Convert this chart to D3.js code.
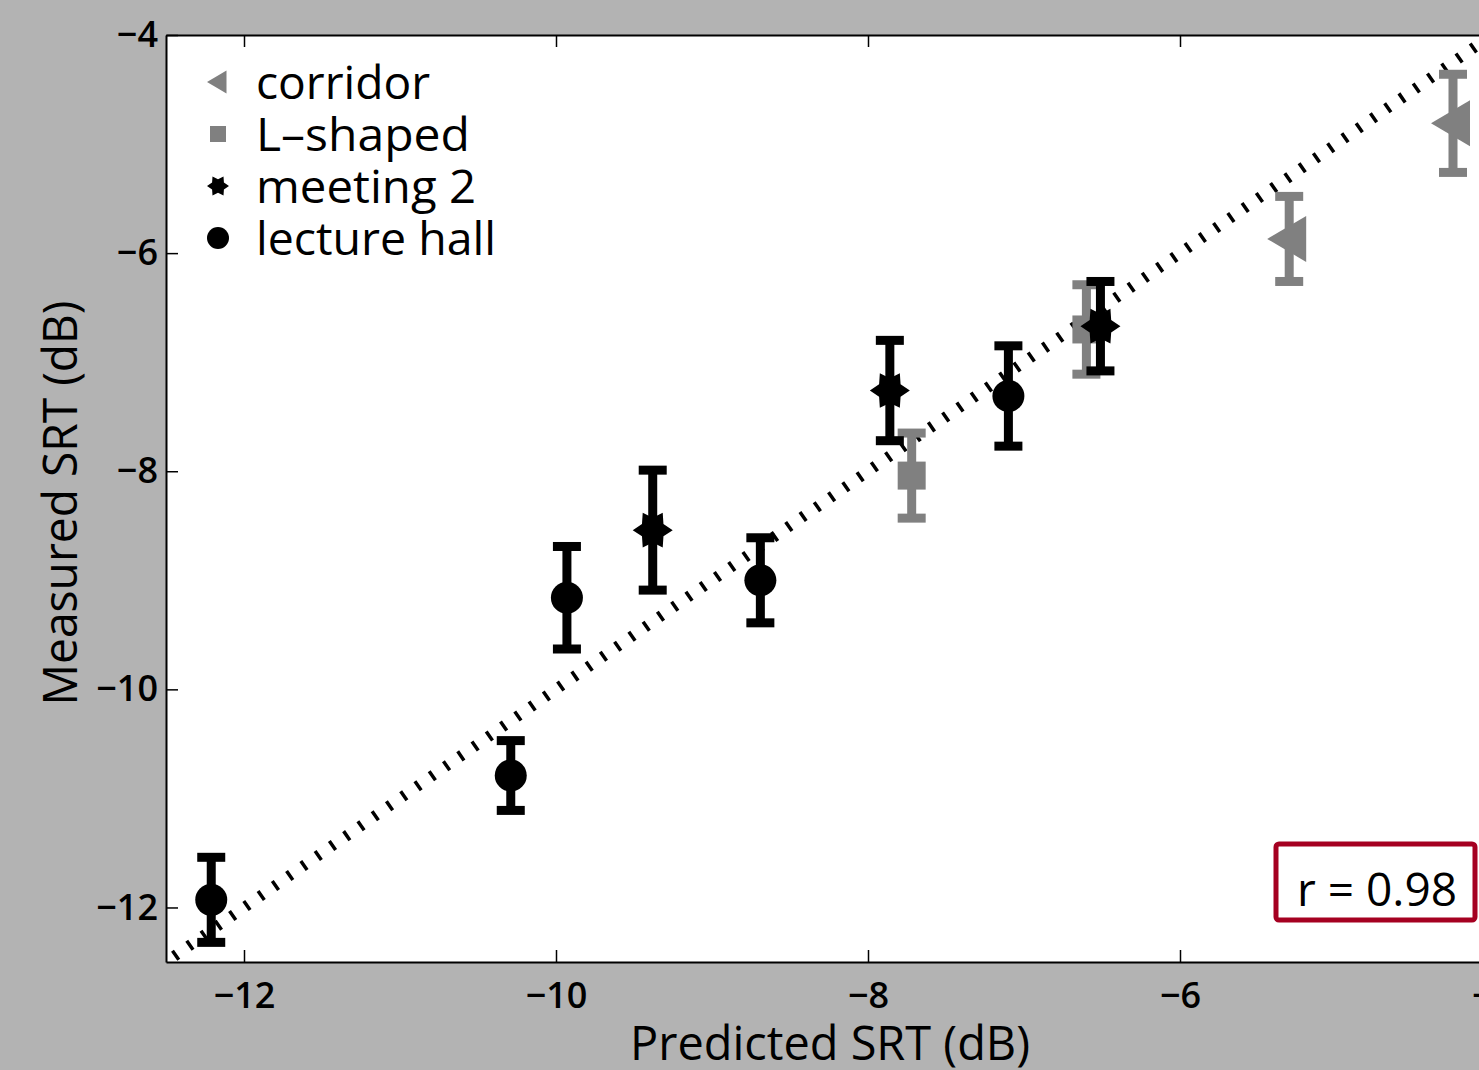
<!DOCTYPE html>
<html>
<head>
<meta charset="utf-8">
<style>
  body { margin: 0; background: #b3b3b3; }
  svg { display: block; }
  text { font-family: "Open Sans", "Noto Sans", sans-serif; fill: #000; }
  .tick text { font-size: 36px; font-weight: 600; }
  .axis-label { font-size: 47px; font-weight: 500; }
  .legend text { font-size: 46px; font-weight: 500; }
</style>
<title>Measured vs predicted SRT</title>
</head>
<body>
<script src="https://cdn.jsdelivr.net/npm/d3@7"></script>
<script>
// data: predicted, measured, half error bar (dB)
const lectureHall = [
  { x: -12.21, y: -11.93, e: 0.39 },
  { x: -10.29, y: -10.79, e: 0.32 },
  { x: -9.93,  y: -9.16,  e: 0.47 },
  { x: -8.69,  y: -9.00,  e: 0.39 },
  { x: -7.10,  y: -7.31,  e: 0.46 }
];
const meeting2 = [
  { x: -9.38, y: -8.54, e: 0.55 },
  { x: -7.86, y: -7.26, e: 0.46 },
  { x: -6.51, y: -6.67, e: 0.41 }
];
const lShaped = [
  { x: -7.72, y: -8.04, e: 0.39 },
  { x: -6.60, y: -6.70, e: 0.41 }
];
const corridor = [
  { x: -5.30, y: -5.87, e: 0.39 },
  { x: -4.25, y: -4.81, e: 0.45 }
];
const xTicks = [-12, -10, -8, -6, -4];
const yTicks = [-12, -10, -8, -6, -4];
const legendNames = ["corridor", "L\u2013shaped", "meeting 2", "lecture hall"];
const rValue = "r = 0.98";

const W = 1479, H = 1070;
const plot = { left: 166, top: 35, right: 1570, bottom: 962 };

const x = d3.scaleLinear().domain([-12.5, -3.5]).range([plot.left, plot.right]);
const y = d3.scaleLinear().domain([-12.5, -4]).range([plot.bottom, plot.top]);

const svg = d3.select("body").append("svg")
  .attr("width", W)
  .attr("height", H);

svg.append("rect").attr("width", W).attr("height", H).attr("fill", "#b3b3b3");

svg.append("rect")
  .attr("x", plot.left).attr("y", plot.top)
  .attr("width", plot.right - plot.left).attr("height", plot.bottom - plot.top)
  .attr("fill", "#fff");

// identity line, drawn as a wide dashed stroke so each dash looks like a small tick
svg.append("line")
  .attr("x1", x(-12.5)).attr("y1", y(-12.5))
  .attr("x2", x(-3.5)).attr("y2", y(-3.5))
  .attr("stroke", "#000")
  .attr("stroke-width", 11)
  .attr("stroke-dasharray", "3.5 13.9")
  .attr("stroke-dashoffset", -10);

// marker shapes
function hexagram(R) {
  const r = R * 0.62;
  const pts = [];
  for (let i = 0; i < 12; i++) {
    const a = i * Math.PI / 6;
    const rad = i % 2 === 0 ? R : r;
    pts.push([rad * Math.cos(a), rad * Math.sin(a)]);
  }
  return "M" + pts.map(p => p.join(",")).join("L") + "Z";
}
function leftTriangle(s) {
  return `M${-s * 1.1},0L${s * 0.85},${-s * 1.15}L${s * 0.85},${s * 1.15}Z`;
}
const shapes = {
  circle: s => d3.symbol(d3.symbolCircle, Math.PI * s * s)(),
  square: s => `M${-s},${-s}H${s}V${s}H${-s}Z`,
  star: s => hexagram(s),
  tri: s => leftTriangle(s)
};

const series = [
  { name: "corridor", data: corridor, color: "#808080", shape: "tri", size: 20 },
  { name: "L-shaped", data: lShaped, color: "#808080", shape: "square", size: 14 },
  { name: "meeting 2", data: meeting2, color: "#000", shape: "star", size: 20 },
  { name: "lecture hall", data: lectureHall, color: "#000", shape: "circle", size: 16 }
];

const capHalf = 14, capThick = 9, stemW = 9;

series.forEach(s => {
  const g = svg.append("g").attr("class", "series");
  const pts = g.selectAll("g").data(s.data).enter().append("g");
  pts.append("line")
    .attr("x1", d => x(d.x)).attr("x2", d => x(d.x))
    .attr("y1", d => y(d.y - d.e)).attr("y2", d => y(d.y + d.e))
    .attr("stroke", s.color).attr("stroke-width", stemW);
  pts.append("rect")
    .attr("x", d => x(d.x) - capHalf).attr("width", capHalf * 2)
    .attr("y", d => y(d.y + d.e) - capThick / 2).attr("height", capThick)
    .attr("fill", s.color);
  pts.append("rect")
    .attr("x", d => x(d.x) - capHalf).attr("width", capHalf * 2)
    .attr("y", d => y(d.y - d.e) - capThick / 2).attr("height", capThick)
    .attr("fill", s.color);
  pts.append("path")
    .attr("transform", d => `translate(${x(d.x)},${y(d.y)})`)
    .attr("d", shapes[s.shape](s.size))
    .attr("fill", s.color);
});

// axes (ticks pointing inward)
const axisStyle = g => {
  g.select(".domain").attr("stroke", "#000").attr("stroke-width", 2);
  g.selectAll(".tick line").attr("stroke", "#000").attr("stroke-width", 1.5);
};
const minus = d => d3.format("")(d).replace("-", "\u2212");

svg.append("g")
  .attr("transform", `translate(0,${plot.bottom})`)
  .call(d3.axisBottom(x).tickValues(xTicks).tickSizeInner(-12).tickSizeOuter(0)
    .tickPadding(14).tickFormat(minus))
  .call(axisStyle)
  .call(g => g.selectAll(".tick text").attr("dy", "0.9em"));

svg.append("g")
  .attr("transform", `translate(0,${plot.top})`)
  .call(d3.axisTop(x).tickValues(xTicks).tickSizeInner(-12).tickSizeOuter(0).tickFormat(""))
  .call(axisStyle);

svg.append("g")
  .attr("transform", `translate(${plot.left},0)`)
  .call(d3.axisLeft(y).tickValues(yTicks).tickSizeInner(-12).tickSizeOuter(0)
    .tickPadding(8).tickFormat(minus))
  .call(axisStyle);

svg.selectAll(".domain").attr("fill", "none");

// axis labels
svg.append("text")
  .attr("class", "axis-label")
  .attr("x", 830).attr("y", 1060)
  .attr("text-anchor", "middle")
  .attr("textLength", 400).attr("lengthAdjust", "spacingAndGlyphs")
  .text("Predicted SRT (dB)");

svg.append("text")
  .attr("class", "axis-label")
  .attr("transform", "translate(77,503) rotate(-90)")
  .attr("text-anchor", "middle")
  .attr("textLength", 405).attr("lengthAdjust", "spacingAndGlyphs")
  .text("Measured SRT (dB)");

// legend
const legend = svg.append("g").attr("class", "legend");
const rows = legend.selectAll("g").data(series).enter().append("g")
  .attr("transform", (d, i) => `translate(218,${82 + i * 52})`);
const legendSize = { tri: 10, square: 8, star: 11, circle: 11 };
const legendWidths = [174, 214, 220, 240];
rows.append("path")
  .attr("d", d => shapes[d.shape](legendSize[d.shape]))
  .attr("fill", d => d.color);
rows.append("text")
  .attr("x", 38).attr("dy", "0.36em")
  .attr("textLength", (d, i) => legendWidths[i]).attr("lengthAdjust", "spacingAndGlyphs")
  .text((d, i) => legendNames[i]);

// correlation box
svg.append("rect")
  .attr("x", 1276).attr("y", 844)
  .attr("width", 199).attr("height", 76)
  .attr("rx", 3)
  .attr("fill", "#fff")
  .attr("stroke", "#a50021").attr("stroke-width", 5);
svg.append("text")
  .attr("x", 1377).attr("y", 906)
  .attr("text-anchor", "middle")
  .attr("font-size", 46)
  .attr("font-weight", 500)
  .text(rValue);
</script>
</body>
</html>
